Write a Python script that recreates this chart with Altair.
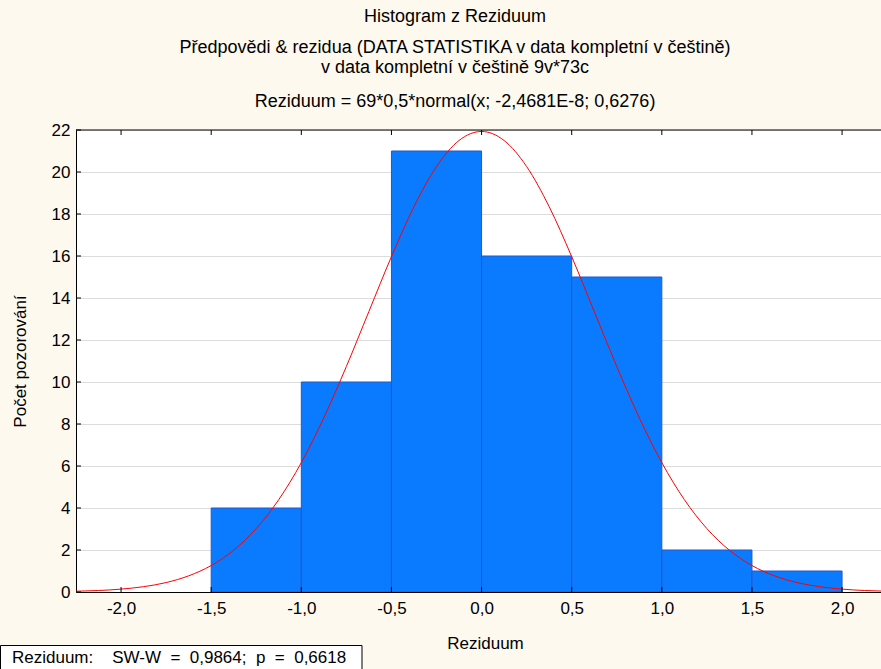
import altair as alt
import pandas as pd

# Histogram bins and counts
bin_start = [-2.0, -1.5, -1.0, -0.5, 0.0, 0.5, 1.0, 1.5]
bin_end = [-1.5, -1.0, -0.5, 0.0, 0.5, 1.0, 1.5, 2.0]
counts = [0, 4, 10, 21, 16, 15, 2, 1]

# Fitted normal curve: 69*0,5*normal(x; -2,4681E-8; 0,6276) read at steps
curve_x = [-2.25, -2.125, -2.0, -1.875, -1.75, -1.625, -1.5, -1.375, -1.25, -1.125,
           -1.0, -0.875, -0.75, -0.625, -0.5, -0.375, -0.25, -0.125, 0.0,
           0.125, 0.25, 0.375, 0.5, 0.625, 0.75, 0.875, 1.0, 1.125, 1.25,
           1.375, 1.5, 1.625, 1.75, 1.875, 2.0, 2.125, 2.25]
curve_y = [0.036, 0.071, 0.137, 0.253, 0.449, 0.77, 1.26, 1.99, 3.02, 4.40,
           6.16, 8.30, 10.74, 13.36, 15.97, 18.35, 20.26, 21.50, 21.93,
           21.50, 20.26, 18.35, 15.97, 13.36, 10.74, 8.30, 6.16, 4.40, 3.02,
           1.99, 1.26, 0.77, 0.449, 0.253, 0.137, 0.071, 0.036]

x_ticks = [-2.0, -1.5, -1.0, -0.5, 0.0, 0.5, 1.0, 1.5, 2.0]
y_ticks = [0, 2, 4, 6, 8, 10, 12, 14, 16, 18, 20, 22]

title_lines = [
    "Histogram z Reziduum",
    "Předpovědi & rezidua (DATA STATISTIKA v data kompletní v češtině)",
    "v data kompletní v češtině 9v*73c",
    "Reziduum = 69*0,5*normal(x; -2,4681E-8; 0,6276)",
]
NB = "\u00a0"
stats_text = ("Reziduum:" + NB * 4 + "SW-W" + NB * 2 + "=" + NB * 2 + "0,9864;" + NB * 2
              + "p" + NB * 2 + "=" + NB * 2 + "0,6618")

W, H = 805, 462
FONT = "Liberation Sans"

xscale = alt.Scale(domain=[-2.25, 2.216], nice=False, zero=False)
yscale = alt.Scale(domain=[0, 22], nice=False)

label_expr = "(datum.value < 0 ? '-' : '') + replace(format(abs(datum.value), '.1f'), '.', ',')"

xaxis = alt.Axis(values=x_ticks, labelExpr=label_expr, ticks=False, grid=False,
                 domainColor="black", labelFontSize=17, labelFont=FONT, labelColor="black",
                 labelPadding=8, title="Reziduum", titleFontSize=17, titleFont=FONT,
                 titleFontWeight="normal", titleColor="black", titlePadding=19, titleX=409,
                 labelFlush=False)
yaxis = alt.Axis(values=y_ticks, ticks=False, grid=True, gridColor="#DCDCDC",
                 domainColor="black", labelFontSize=17, labelFont=FONT, labelColor="black",
                 labelPadding=6, title="Počet pozorování", titleFontSize=17, titleFont=FONT,
                 titleFontWeight="normal", titleColor="black", titlePadding=22)

hist_df = pd.DataFrame({"start": bin_start, "end": bin_end, "count": counts})
curve_df = pd.DataFrame({"x": curve_x, "y": curve_y})

bars = alt.Chart(hist_df).transform_filter("datum.count > 0").mark_bar(
    color="#0A7BFF", stroke="#2456C8", strokeWidth=1, clip=True).encode(
    x=alt.X("start:Q", scale=xscale, axis=xaxis),
    x2="end:Q",
    y=alt.Y("count:Q", scale=yscale, axis=yaxis),
    y2=alt.datum(0),
)

curve = alt.Chart(curve_df).mark_line(color="#FF0000", strokeWidth=1, clip=True,
                                      interpolate="monotone").encode(
    x=alt.X("x:Q", scale=xscale),
    y=alt.Y("y:Q", scale=yscale),
)

tick_df = pd.DataFrame({"v": x_ticks})
xticks_bottom = alt.Chart(tick_df).mark_rule(color="black", strokeWidth=1).encode(
    x=alt.X("v:Q", scale=xscale), y=alt.value(H), y2=alt.value(H - 5))
xticks_top = alt.Chart(tick_df).mark_rule(color="black", strokeWidth=1).encode(
    x=alt.X("v:Q", scale=xscale), y=alt.value(0), y2=alt.value(5))
ytick_df = pd.DataFrame({"v": y_ticks})
yticks = alt.Chart(ytick_df).mark_rule(color="black", strokeWidth=1).encode(
    y=alt.Y("v:Q", scale=yscale), x=alt.value(0), x2=alt.value(5))

one = pd.DataFrame({"a": [0]})
top_line = alt.Chart(one).mark_rule(color="black", strokeWidth=1).encode(
    y=alt.value(0), x=alt.value(0), x2=alt.value(W))

title_y = [-113, -82, -62, -28]
title_layers = []
for t, yy in zip(title_lines, title_y):
    title_layers.append(
        alt.Chart(one).mark_text(text=t, font=FONT, fontSize=18, color="black",
                                 align="center", baseline="middle").encode(
            x=alt.value(379), y=alt.value(yy))
    )

box = alt.Chart(one).mark_rect(fill="white", stroke="black", strokeWidth=1, clip=False).encode(
    x=alt.value(-75.5), x2=alt.value(286), y=alt.value(515.5), y2=alt.value(545))
box_text = alt.Chart(one).mark_text(text=stats_text, font=FONT, fontSize=17, color="black",
                                    align="left", baseline="middle").encode(
    x=alt.value(-64), y=alt.value(528))

chart = alt.layer(bars, curve, xticks_bottom, xticks_top, yticks, top_line,
                  *title_layers, box, box_text).properties(
    width=W, height=H,
    background="#FDF9EE",
    padding={"left": 76, "top": 130, "right": 0, "bottom": 77},
    autosize=alt.AutoSizeParams(type="none"),
).configure_view(fill="white", stroke=None)

chart.save("out.html", embed_options={"renderer": "svg", "actions": False})
